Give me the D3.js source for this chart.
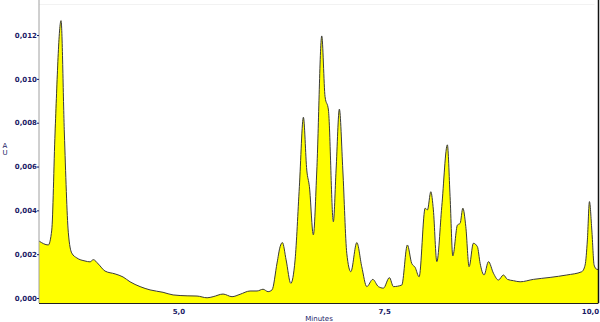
<!DOCTYPE html>
<html>
<head>
<meta charset="utf-8">
<script src="https://cdn.jsdelivr.net/npm/d3@7"></script>
<style>
  body { margin: 0; background: #fff; }
  svg text { font-family: "DejaVu Sans", sans-serif; fill: #1a1a66; }
</style>
</head>
<body>
<div id="chart"></div>
<script>
// retention time (minutes) and absorbance (AU)
var times = [3.307, 3.42, 3.462, 3.502, 3.575, 3.615, 3.663, 3.705, 3.766, 3.866, 3.927, 3.967,
  4.028, 4.109, 4.231, 4.328, 4.413, 4.535, 4.656, 4.814, 4.936, 5.106, 5.227, 5.349, 5.422,
  5.543, 5.652, 5.75, 5.871, 5.956, 6.029, 6.09, 6.138, 6.199, 6.236, 6.264, 6.309, 6.366,
  6.418, 6.47, 6.519, 6.56, 6.592, 6.64, 6.682, 6.742, 6.782, 6.823, 6.883, 6.916, 6.956,
  6.998, 7.046, 7.095, 7.168, 7.228, 7.289, 7.362, 7.43, 7.491, 7.564, 7.613, 7.714, 7.782,
  7.835, 7.876, 7.925, 7.998, 8.026, 8.067, 8.098, 8.14, 8.2, 8.268, 8.301, 8.334, 8.39,
  8.423, 8.456, 8.492, 8.532, 8.584, 8.633, 8.666, 8.714, 8.767, 8.828, 8.888, 8.949, 8.998,
  9.071, 9.152, 9.313, 9.516, 9.719, 9.901, 9.941, 9.969, 9.994, 10.023, 10.051, 10.083, 10.107];
var au = [0.0026, 0.00242, 0.0031, 0.00753, 0.01266, 0.00753, 0.003, 0.00205, 0.00183, 0.00169,
  0.00165, 0.00175, 0.00155, 0.00123, 0.0011, 0.00096, 0.00074, 0.00052, 0.00037, 0.00026,
  0.00014, 0.0001, 0.00009, 0.00001, 0.00006, 0.00018, 0.00006, 0.00017, 0.00032, 0.00032,
  0.0004, 0.00029, 0.00037, 0.0016, 0.00234, 0.00253, 0.00174, 0.00067, 0.00174, 0.00508,
  0.00825, 0.00584, 0.00508, 0.00288, 0.00584, 0.01196, 0.00919, 0.00858, 0.00348, 0.00584,
  0.00862, 0.00584, 0.00204, 0.0012, 0.00253, 0.00143, 0.00052, 0.00085, 0.00052, 0.00045,
  0.00093, 0.00052, 0.00059, 0.00242, 0.00158, 0.0014, 0.00097, 0.0041, 0.00402, 0.00485,
  0.00402, 0.00166, 0.00417, 0.00699, 0.00463, 0.00192, 0.00333, 0.00341, 0.0041, 0.00326,
  0.00143, 0.0025, 0.00234, 0.00158, 0.00105, 0.00166, 0.00113, 0.00082, 0.00105, 0.00085,
  0.00079, 0.00074, 0.00085, 0.00094, 0.00105, 0.0012, 0.0015, 0.00265, 0.0044, 0.0031,
  0.0015, 0.00131, 0.0013];
var yTicks = [0, 0.002, 0.004, 0.006, 0.008, 0.010, 0.012];
var xTicks = [5.0, 7.5, 10.0];

var data = times.map(function (t, i) { return [t, au[i]]; });

var W = 600, H = 322;
var plotL = 39, plotR = 598.5, plotT = 0, plotB = 303;

var svg = d3.select("#chart").append("svg")
  .attr("width", W)
  .attr("height", H);

var x = d3.scaleLinear().domain([3.307, 10.104]).range([plotL, plotR]);
var y = d3.scaleLinear().domain([-0.000228, 0.0136]).range([plotB, plotT]);

var fmt = function (d, n) { return d3.format("." + n + "f")(d).replace(".", ","); };

// faint top border
svg.append("line")
  .attr("x1", plotL).attr("x2", plotR - 4)
  .attr("y1", 4.5).attr("y2", 4.5)
  .attr("stroke", "#f2f2f2");

var area = d3.area()
  .x(function (d) { return x(d[0]); })
  .y0(plotB)
  .y1(function (d) { return y(d[1]); })
  .curve(d3.curveMonotoneX);

var line = d3.line()
  .x(function (d) { return x(d[0]); })
  .y(function (d) { return y(d[1]); })
  .curve(d3.curveMonotoneX);

svg.append("path")
  .datum(data)
  .attr("d", area)
  .attr("fill", "#ffff00");

svg.append("path")
  .datum(data)
  .attr("d", line)
  .attr("fill", "none")
  .attr("stroke", "#3a3a3a")
  .attr("stroke-width", 1);

// y axis
var yAxis = svg.append("g")
  .attr("transform", "translate(" + plotL + ",0)")
  .call(d3.axisLeft(y).tickValues(yTicks).tickSize(2).tickFormat(function (d) { return fmt(d, 3); }));
yAxis.select(".domain").attr("stroke", "#a0a0a0").attr("d", "M0," + plotT + "V" + plotB);
yAxis.selectAll(".tick line").attr("stroke", "#1a1a66");
yAxis.selectAll("text")
  .attr("x", -2)
  .style("font-size", "7px")
  .style("font-weight", "bold")
  .attr("fill", "#1a1a66");

// x axis
var xAxis = svg.append("g")
  .attr("transform", "translate(0," + plotB + ")")
  .call(d3.axisBottom(x).tickValues(xTicks).tickSize(0).tickFormat(function (d) { return fmt(d, 1); }));
xAxis.select(".domain").attr("stroke", "#222").attr("d", "M" + plotL + ",0.5H" + plotR);
xAxis.selectAll("text")
  .attr("y", 6)
  .style("font-size", "7px")
  .style("font-weight", "bold")
  .attr("fill", "#1a1a66");

// right border
svg.append("line")
  .attr("x1", plotR).attr("x2", plotR)
  .attr("y1", 0).attr("y2", plotB)
  .attr("stroke", "#111")
  .attr("stroke-width", 1.5);

svg.append("text")
  .attr("x", 319).attr("y", 321)
  .attr("text-anchor", "middle")
  .style("font-size", "7px")
  .text("Minutes");

svg.append("text").attr("x", 5).attr("y", 148).attr("text-anchor", "middle").style("font-size", "7px").text("A");
svg.append("text").attr("x", 5).attr("y", 155).attr("text-anchor", "middle").style("font-size", "7px").text("U");
</script>
</body>
</html>
